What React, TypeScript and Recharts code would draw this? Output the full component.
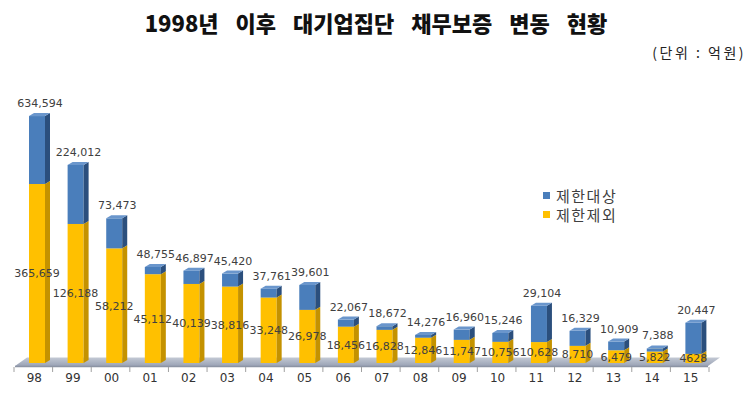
import { BarChart, Bar, XAxis, YAxis, LabelList } from 'recharts'

const years = ['98', '99', '00', '01', '02', '03', '04', '05', '06', '07', '08', '09', '10', '11', '12', '13', '14', '15']

// 채무보증 합계 (top labels)
const totals = [634594, 224012, 73473, 48755, 46897, 45420, 37761, 39601, 22067, 18672, 14276, 16960, 15246, 29104, 16329, 10909, 7388, 20447]

// 제한제외 (yellow part)
const excluded = [365659, 126188, 58212, 45112, 40139, 38816, 33248, 26978, 18456, 16828, 12846, 11747, 10756, 10628, 8710, 6479, 5822, 4628]

// printed as in the source (15 has no comma)
const excludedText = ['365,659', '126,188', '58,212', '45,112', '40,139', '38,816', '33,248', '26,978', '18,456', '16,828', '12,846', '11,747', '10,756', '10,628', '8,710', '6,479', '5,822', '4628']

// 98 and 99 are drawn cut short in the original (broken scale); heights as drawn
const drawnExcluded = { 0: 90900, 1: 70600 } as Record<number, number>
const drawnTarget = { 0: 34500, 1: 30000 } as Record<number, number>

const data = years.map((year, i) => ({
  year,
  excluded: drawnExcluded[i] ?? excluded[i],
  target: drawnTarget[i] ?? totals[i] - excluded[i],
  total: totals[i].toLocaleString('en-US'),
  excLabel: excludedText[i],
}))

const W = 752
const H = 395
const MARGIN = { top: 107, right: 39, bottom: 0, left: 18 }
const AXIS_H = 32
const DEPTH = 5
const RISE = 3

const LABEL_FONT = '"DejaVu Sans", Verdana, sans-serif'
const KR_FONT = '"Noto Sans CJK KR", "Noto Sans", sans-serif'

const make3D = (front: string, side: string, top: string) => (props: any) => {
  const { x, y, width: w, height: h } = props
  if (h == null || h <= 0) return <g />
  return (
    <g>
      <rect x={x} y={y} width={w} height={h} fill={front} />
      <polygon
        points={`${x + w},${y} ${x + w + DEPTH},${y - RISE} ${x + w + DEPTH},${y + h - RISE} ${x + w},${y + h}`}
        fill={side}
      />
      <polygon
        points={`${x},${y} ${x + DEPTH},${y - RISE} ${x + w + DEPTH},${y - RISE} ${x + w},${y}`}
        fill={top}
      />
    </g>
  )
}

const YellowBar = make3D('#FFC000', '#C49200', '#FFD34D')
const BlueBar = make3D('#4A7EBB', '#2B4F7D', '#6A96CC')

const TotalLabel = (props: any) => {
  const { x, y, width, value } = props
  return (
    <text
      x={x + width / 2 + 3}
      y={y - 9}
      textAnchor="middle"
      fontSize={11}
      fontFamily={LABEL_FONT}
      fill="#404040"
    >
      {value}
    </text>
  )
}

const InnerLabel = (props: any) => {
  const { x, y, width, height, value } = props
  return (
    <text
      x={x + width / 2}
      y={y + height / 2}
      dy="0.36em"
      textAnchor="middle"
      fontSize={11}
      fontFamily={LABEL_FONT}
      fill="#404040"
    >
      {value}
    </text>
  )
}

function Floor() {
  const plotW = W - MARGIN.left - MARGIN.right
  const band = plotW / years.length
  const ticks = Array.from({ length: years.length + 1 }, (_, i) => MARGIN.left + i * band - 4)
  return (
    <svg width={W} height={H} style={{ position: 'absolute', left: 0, top: 0 }}>
      <defs>
        <linearGradient id="floorGrad" x1="0" y1="0" x2="0" y2="1">
          <stop offset="0%" stopColor="#C3C9D4" />
          <stop offset="100%" stopColor="#9AA3B5" />
        </linearGradient>
      </defs>
      <polygon points="15,366 27,357.5 720,357.5 708,366" fill="url(#floorGrad)" />
      <line x1={15} y1={366.5} x2={708} y2={366.5} stroke="#8C94A4" strokeWidth={1.5} />
      {ticks.map((t, i) => (
        <line key={i} x1={t} y1={367} x2={t} y2={372} stroke="#A0A0A0" />
      ))}
    </svg>
  )
}

export default function App() {
  return (
    <div style={{ position: 'absolute', left: 0, top: 0, width: W, height: H, background: '#fff', overflow: 'hidden' }}>
      <div
        style={{
          position: 'absolute', left: 0, top: 7, width: W, textAlign: 'center',
          fontFamily: KR_FONT, fontWeight: 900, fontSize: 22, wordSpacing: 12, color: '#111',
          lineHeight: '30px',
        }}
      >
        1998년 이후 대기업집단 채무보증 변동 현황
      </div>
      <div
        style={{
          position: 'absolute', right: 6, top: 42, fontFamily: KR_FONT, fontSize: 14,
          letterSpacing: 2.5, color: '#222', lineHeight: '20px',
        }}
      >
        (단위 : 억원)
      </div>
      <Floor />
      <div style={{ position: 'absolute', left: 0, top: 0 }}>
        <BarChart width={W} height={H} data={data} margin={MARGIN}>
          <XAxis
            dataKey="year"
            height={AXIS_H}
            axisLine={false}
            tickLine={false}
            tickSize={0}
            tickMargin={10}
            interval={0}
            tick={{ fill: '#333', fontSize: 12, fontFamily: LABEL_FONT, dx: -3 }}
          />
          <YAxis hide domain={[0, 130000]} />
          <Bar dataKey="excluded" stackId="a" barSize={16} shape={YellowBar} isAnimationActive={false}>
            <LabelList dataKey="excLabel" content={InnerLabel} />
          </Bar>
          <Bar dataKey="target" stackId="a" barSize={16} shape={BlueBar} isAnimationActive={false}>
            <LabelList dataKey="total" content={TotalLabel} />
          </Bar>
        </BarChart>
      </div>
      <div style={{ position: 'absolute', left: 543, top: 186, fontFamily: KR_FONT, fontSize: 15, color: '#404040', letterSpacing: 1.5 }}>
        <div style={{ display: 'flex', alignItems: 'center', height: 19 }}>
          <span style={{ width: 7, height: 7, background: '#4A7EBB', marginRight: 6 }} />제한대상
        </div>
        <div style={{ display: 'flex', alignItems: 'center', height: 19 }}>
          <span style={{ width: 7, height: 7, background: '#FFC000', marginRight: 6 }} />제한제외
        </div>
      </div>
    </div>
  )
}
